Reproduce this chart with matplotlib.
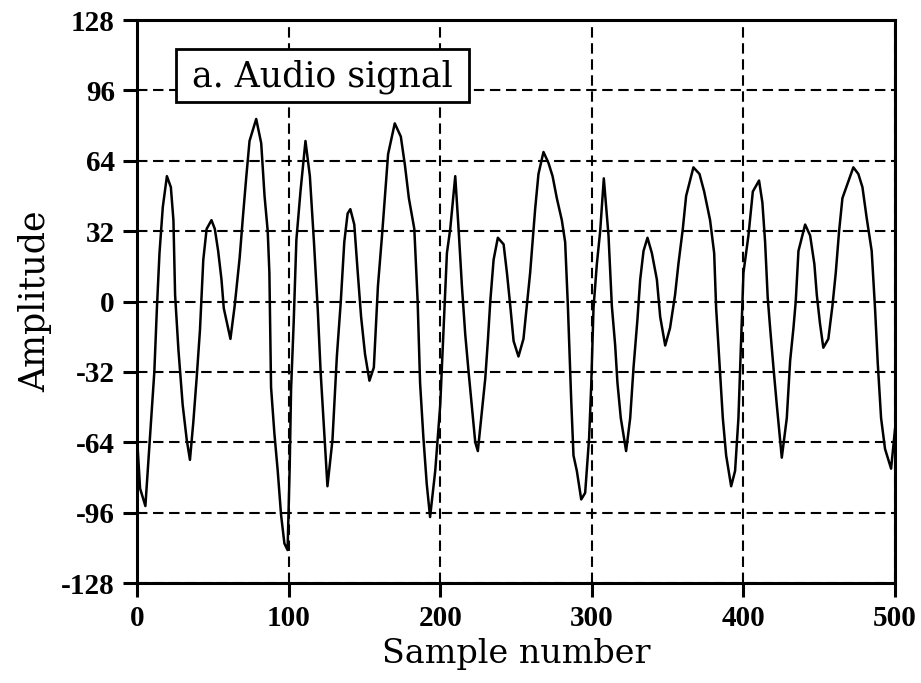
import matplotlib
matplotlib.use("Agg")
import matplotlib.pyplot as plt
from matplotlib.patches import Rectangle

# ── Values (sample index, amplitude) ─────────────────────────────────────────
sample_idx = [
    0, 2, 5.5, 8.7, 11.4, 13.1, 14.8, 17, 19.7, 22.3, 24, 25.1, 27.3, 30.1,
    32.8, 34.9, 37.1, 39.3, 41.5, 43.7, 45.9, 49.1, 51.3, 53.5, 55.7, 57.2,
    61.6, 64.4, 67.7, 69.9, 72.1, 74.2, 78.6, 81.9, 84.1, 86.2, 87.3, 88.4,
    90.6, 92.8, 95, 97.2, 99.3,
    100.7, 101.6, 103.3, 105.1, 107.8, 111.1, 114, 116.7, 119.3, 121.1, 122.9,
    125.6, 128.9, 131.8, 134.4, 136.7, 138.9, 140.7, 143.3, 145.6, 147.8,
    150.4, 153.3, 156.2, 158.9, 161.6, 163.8, 165.6, 170, 174, 176.7, 179.3,
    182.9, 185.1, 186.7, 188.9, 191.1, 193.3, 196.7, 200,
    204.4, 206.6, 209.9, 212.1, 214.3, 216.5, 218.7, 220.9, 223.1, 224.8,
    227.5, 229.7, 231.4, 233, 235.2, 238, 241.8, 244, 246.2, 248.4, 251.6,
    254.9, 257.1, 259.3, 260.9, 262.6, 264.8, 268.1, 271.4, 274.1, 276.9,
    280.2, 282.4, 284.2, 286.4, 287.9, 290.1, 293, 295.6, 298.2, 299.6, 301.1,
    303.3, 305.5,
    307.9, 311, 313.2, 315.4, 316.9, 319.1, 322.6, 325.3, 327.5, 330.1, 331.9,
    334.1, 336.7, 339.6, 342.9, 345.1, 348.4, 351.6, 354.9, 357.1, 360, 362.2,
    367, 371, 374.1, 378, 380.7, 382, 384.2, 386.4, 388.6, 391.9, 394.5,
    396.7, 398.2, 400, 403.3, 406.2,
    410.3, 412.5, 414.3, 416, 417.6, 419.8, 422, 425.3, 428.6, 430.8, 433,
    434.5, 436.3, 440.7, 444, 446.8, 448.4, 450.5, 452.7, 456, 458.7, 460.9,
    463.1, 465.3, 472.5, 475.8, 478.5, 481.3, 484.6, 486.8, 488.6, 490.8,
    493.4, 495.6, 497.4, 500,
]
amplitude = [
    -62, -85, -93, -60, -32, -3, 22, 43, 57, 52, 37, 3, -22, -47,
    -63, -72, -55, -35, -13, 19, 33, 37, 33, 23, 10, -3,
    -17, -2, 20, 39, 57, 73, 83, 72, 48, 32, 13, -39,
    -60, -77, -97, -110, -113,
    -75, -40, -10, 28, 50, 73, 57, 27, -5, -32, -53,
    -84, -63, -25, 0, 27, 40, 42, 35, 13, -7,
    -24, -36, -30, 7, 30, 50, 67, 81, 75, 62, 47,
    33, 0, -37, -62, -83, -98, -77, -47,
    22, 33, 57, 33, 7, -15, -32, -48, -64, -68,
    -50, -35, -18, 0, 19, 29, 26, 13, -2, -18, -25,
    -17, -2, 13, 27, 42, 58, 68, 63, 57, 47,
    37, 27, -2, -45, -70, -77, -90, -87, -62, -38, -3,
    17, 32,
    56, 30, -2, -20, -37, -53, -68, -53, -30, -8, 10,
    23, 29, 22, 10, -7, -20, -12, 3, 17, 33, 48,
    61, 58, 50, 37, 22, -3, -28, -53, -70, -84, -77,
    -53, -23, 13, 30, 50,
    55, 45, 27, 2, -12, -30, -47, -71, -53, -27, -12,
    0, 23, 35, 30, 17, 3, -10, -21, -17, -2, 13,
    32, 47, 61, 58, 52, 38, 23, -3, -28, -53,
    -67, -72, -76, -58,
]

x_ticks = [0, 100, 200, 300, 400, 500]
y_ticks = [-128, -96, -64, -32, 0, 32, 64, 96, 128]

plt.rcParams["font.family"] = ["Liberation Serif", "DejaVu Serif"]
plt.rcParams["axes.unicode_minus"] = False

fig = plt.figure(figsize=(9.21, 6.83), dpi=100)
ax = fig.add_axes([0.1488, 0.1464, 0.8230, 0.8243])

ax.plot(sample_idx, amplitude, color="black", lw=1.8, zorder=3)

ax.set_xlim(0, 500)
ax.set_ylim(-128, 128)
ax.set_xticks(x_ticks)
ax.set_yticks(y_ticks)
ax.tick_params(direction="out", length=10, width=2.2, labelsize=21, pad=6)
for lab in ax.get_xticklabels() + ax.get_yticklabels():
    lab.set_fontweight("bold")

ax.grid(True, color="black", ls=(0, (5, 2.7)), lw=1.5, zorder=1)
for s in ax.spines.values():
    s.set_linewidth(2.2)

ax.set_xlabel("Sample number", fontsize=24, family="DejaVu Serif", labelpad=4)
ax.set_ylabel("Amplitude", fontsize=25, family="DejaVu Serif", labelpad=6)

# label box, placed like in the reference
ax.add_patch(Rectangle((0.0515, 0.854), 0.3865, 0.094, transform=ax.transAxes,
                       facecolor="white", edgecolor="black", lw=2, zorder=4))
ax.text(0.2448, 0.899, "a. Audio signal", transform=ax.transAxes,
        fontsize=25, family="DejaVu Serif", ha="center", va="center", zorder=5)

fig.savefig("out.png", dpi=100)
